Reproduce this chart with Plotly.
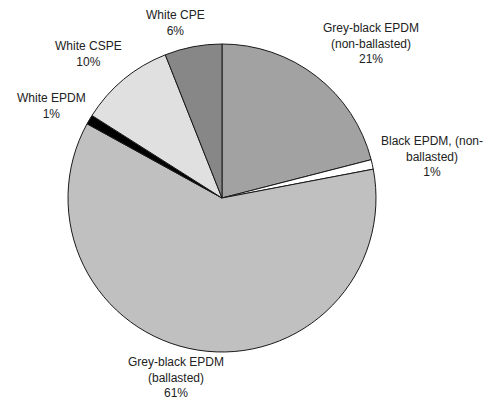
import plotly.graph_objects as go

# Roofing membrane shares, clockwise from 12 o'clock
categories = [
    "Grey-black EPDM (non-ballasted)",
    "Black EPDM, (non-ballasted)",
    "Grey-black EPDM (ballasted)",
    "White EPDM",
    "White CSPE",
    "White CPE",
]
label_lines = [
    "Grey-black EPDM<br>(non-ballasted)",
    "Black EPDM, (non-<br>ballasted)",
    "Grey-black EPDM<br>(ballasted)",
    "White EPDM",
    "White CSPE",
    "White CPE",
]
shares = [21, 1, 61, 1, 10, 6]

slice_colors = ["#a2a2a2", "#ffffff", "#c0c0c0", "#000000", "#e0e0e0", "#878787"]
# label block centres in pixels (x, y from top)
label_px = [(371, 44), (432, 156), (176, 377), (51, 106), (88, 54), (175, 23)]

W, H = 492, 400
cx, cy, r = 222, 198, 154

fig = go.Figure(
    go.Pie(
        labels=categories,
        values=shares,
        sort=False,
        direction="clockwise",
        rotation=0,
        textinfo="none",
        hoverinfo="label+percent",
        marker=dict(colors=slice_colors, line=dict(color="#1a1a1a", width=1)),
        domain=dict(
            x=[(cx - r) / W, (cx + r) / W],
            y=[(H - cy - r) / H, (H - cy + r) / H],
        ),
        showlegend=False,
    )
)

for name, v, (px, py) in zip(label_lines, shares, label_px):
    fig.add_annotation(
        x=px / W,
        y=(H - py) / H,
        xref="paper",
        yref="paper",
        xanchor="center",
        yanchor="middle",
        text=f"{name}<br>{v}%",
        showarrow=False,
        align="center",
        font=dict(family="Liberation Sans, Arial, sans-serif", size=12, color="#222222"),
    )

fig.update_layout(
    width=W,
    height=H,
    margin=dict(l=0, r=0, t=0, b=0),
    paper_bgcolor="white",
    plot_bgcolor="white",
)

fig.write_html("out.html")
